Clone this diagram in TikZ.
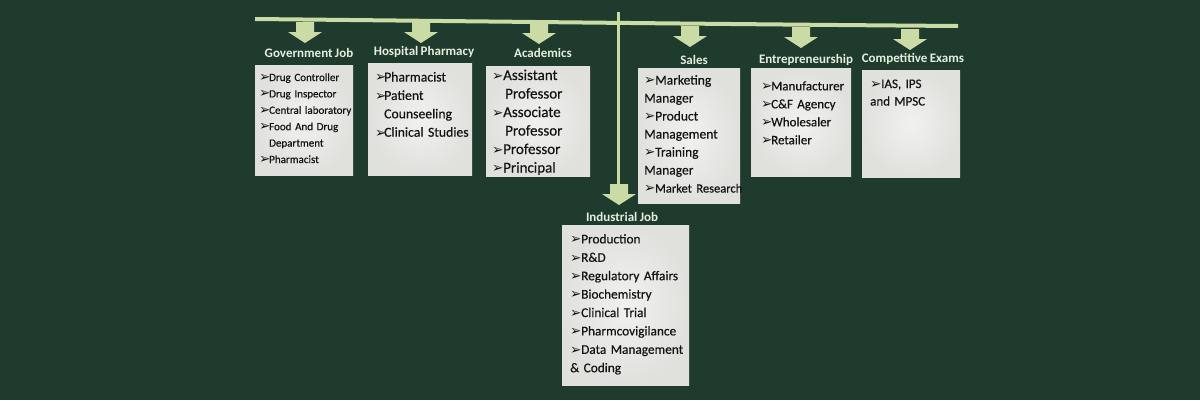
\documentclass[tikz,border=0pt]{standalone}
\usepackage{fontspec}
\setmainfont{Carlito}[WordSpace=0.8, UprightFeatures={FakeBold=0.5}]
\newfontfamily\dvfont{DejaVu Sans}
\definecolor{bgc}{HTML}{1F3B2D}
\definecolor{lnc}{HTML}{CADBA6}
\definecolor{ttlc}{HTML}{E6EEDD}
\definecolor{boxin}{HTML}{F1F1EF}
\definecolor{boxout}{HTML}{E0E1DD}
\definecolor{txtc}{HTML}{141414}
\newcommand\bl[1]{\makebox[#1][l]{\dvfont\fontsize{13.5}{13.5}\selectfont\raisebox{-0.3pt}{➢}}}
\newcommand\fs[2]{\fontsize{#1}{#2}\selectfont}
\tikzset{
  blkarrow/.pic={\fill[lnc] (-9,0) -- (9,0) -- (9,10) -- (17,10) -- (0,21) -- (-17,10) -- (-9,10) -- cycle;},
  boxn/.style={inner color=boxin, outer color=boxout, draw=none, anchor=north west, inner sep=0, minimum width=#1},
  ttl/.style={text=ttlc, font=\bfseries\fs{13}{13}, inner sep=0},
  lst/.style={text=txtc, inner sep=0, anchor=base west, align=left, text width=160pt},
  rail/.style={draw=lnc, line width=4pt},
}
\begin{document}
\begin{tikzpicture}[x=1pt,y=-1pt]
\useasboundingbox (0,0) rectangle (1200,400);
\fill[bgc] (0,0) rectangle (1200,400);
% rails
\coordinate (hl) at (255,19);
\coordinate (hr) at (958,26);
\coordinate (vt) at (618,12);
\coordinate (vb) at (618,184);
\draw[rail] (hl) .. controls (450,21) and (700,24) .. (hr);
\draw[draw=lnc, line width=3pt] (vt) -- (vb);
% arrows
\pic (ga) at (305,22) {blkarrow};
\pic (ha) at (421,22) {blkarrow};
\pic (aa) at (539,23) {blkarrow};
\pic (sa) at (690,26) {blkarrow};
\pic (ea) at (801,27) {blkarrow};
\pic (ca) at (910,29) {blkarrow};
\pic (ia) at (619,184) {blkarrow};
% titles
\node[ttl] (gt) at (309,53) {Government Job};
\node[ttl] (ht) at (424,52) {Hospital Pharmacy};
\node[ttl] (at) at (543,53) {Academics};
\node[ttl] (st) at (694,60) {Sales};
\node[ttl] (et) at (806,60) {Entrepreneurship};
\node[ttl] (ct) at (913,59) {Competitive Exams};
\node[ttl] (it) at (622,217) {Industrial Job};
% boxes
\node[boxn=98pt, minimum height=110pt] (gb) at (255,65) {};
\node[boxn=104pt, minimum height=112pt] (hb) at (368,63) {};
\node[boxn=104pt, minimum height=110pt] (ab) at (486,66) {};
\node[boxn=102pt, minimum height=135pt] (sb) at (638,68) {};
\node[boxn=100pt, minimum height=108pt] (eb) at (751,68) {};
\node[boxn=98pt, minimum height=107pt] (cb) at (862,70) {};
\node[boxn=127pt, minimum height=160pt] (ib) at (562,225) {};
% lists
\node[lst, font=\fs{11}{16.4}] (gl) at (259,81) {\bl{10pt}Drug Controller\\\bl{10pt}Drug Inspector\\\bl{10pt}Central laboratory\\\bl{10pt}Food And Drug\\\hspace*{10pt}Department\\\bl{10pt}Pharmacist};
\node[lst, font=\fs{13.7}{18.4}] (hl2) at (375,81.5) {\bl{9pt}Pharmacist\\\bl{9pt}Patient\\\hspace*{9pt}Counseeling\\\bl{9pt}Clinical Studies};
\node[lst, font=\fs{15}{18.5}] (al) at (492,80) {\bl{11pt}Assistant\\\hspace*{13pt}Professor\\\bl{11pt}Associate\\\hspace*{13pt}Professor\\\bl{11pt}Professor\\\bl{11pt}Principal};
\node[lst, font=\fs{13.5}{18}] (sl) at (644,84.5) {\bl{11pt}Marketing\\Manager\\\bl{11pt}Product\\Management\\\bl{11pt}Training\\Manager\\\bl{11pt}{\fs{12.5}{18}Market Research}};
\node[lst, font=\fs{13}{18}] (el) at (761,90.3) {\bl{10pt}Manufacturer\\\bl{10pt}C\&F Agency\\\bl{10pt}Wholesaler\\\bl{10pt}Retailer};
\node[lst, font=\fs{13}{17.5}] (cl) at (870,88) {\bl{11pt}IAS, IPS\\and MPSC};
\node[lst, font=\fs{13.3}{18.4}] (il) at (570,243.4) {\bl{11pt}Production\\\bl{11pt}R\&D\\\bl{11pt}Regulatory Affairs\\\bl{11pt}Biochemistry\\\bl{11pt}Clinical Trial\\\bl{11pt}Pharmcovigilance\\\bl{11pt}Data Management\\\& Coding};
\end{tikzpicture}
\end{document}
